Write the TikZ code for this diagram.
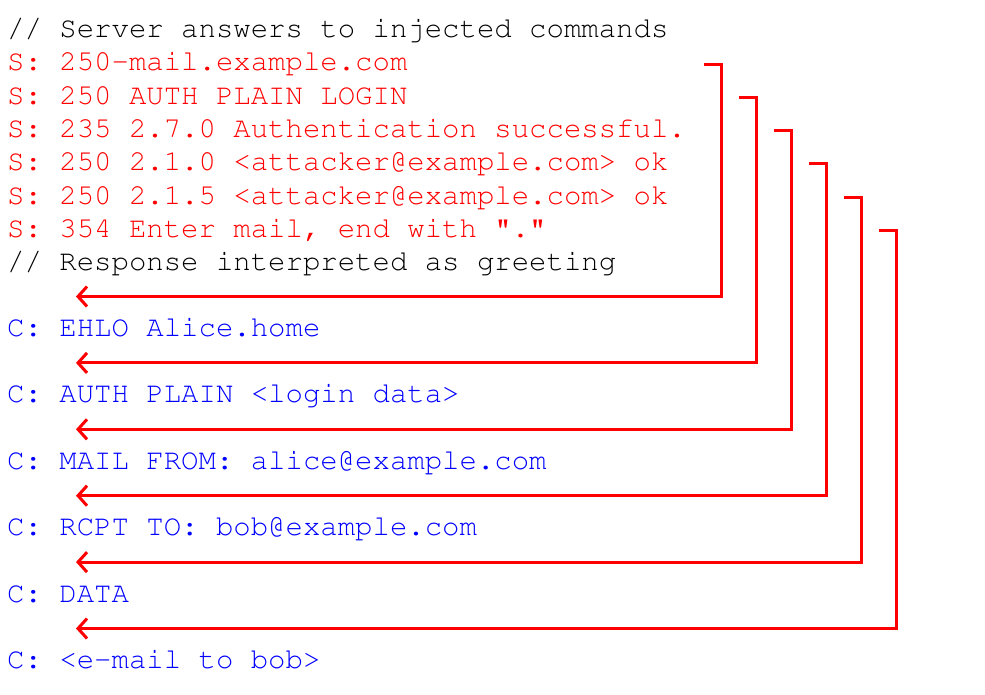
\documentclass[tikz,border=0pt]{standalone}
\usepackage[T1]{fontenc}
\usepackage{courier}
\usetikzlibrary{arrows.meta}
\definecolor{srv}{RGB}{255,0,0}
\definecolor{cli}{RGB}{0,0,255}
\begin{document}
\begin{tikzpicture}[x=1pt,y=-1pt,
  line/.style={inner sep=0pt,anchor=base west,font=\ttfamily\fontsize{29}{33}\selectfont},
  cmt/.style={line,text=black},
  sline/.style={line,text=srv},
  cline/.style={line,text=cli},
  conn/.style={draw=srv,line width=3pt,-{Straight Barb[length=9pt,width=20pt,line width=3pt]}}]
\useasboundingbox[fill=white] (0,0) rectangle (985,694);
\node[cmt]   (h1) at (7,37.5)  {// Server answers to injected commands};
\node[sline] (r1) at (7,70.8)  {S: 250-mail.example.com};
\node[sline] (r2) at (7,104.1) {S: 250 AUTH PLAIN LOGIN};
\node[sline] (r3) at (7,137.4) {S: 235 2.7.0 Authentication successful.};
\node[sline] (r4) at (7,170.7) {S: 250 2.1.0 <attacker@example.com> ok};
\node[sline] (r5) at (7,204)   {S: 250 2.1.5 <attacker@example.com> ok};
\node[sline] (r6) at (7,237.3) {S: 354 Enter mail, end with "."};
\node[cmt]   (h2) at (7,270.6) {// Response interpreted as greeting};
\node[cline] (c1) at (7,336)   {C: EHLO Alice.home};
\node[cline] (c2) at (7,402.5) {C: AUTH PLAIN <login data>};
\node[cline] (c3) at (7,469)   {C: MAIL FROM: alice@example.com};
\node[cline] (c4) at (7,535.5) {C: RCPT TO: bob@example.com};
\node[cline] (c5) at (7,602)   {C: DATA};
\node[cline] (c6) at (7,668.5) {C: <e-mail to bob>};
\foreach \i in {1,...,6}{
  \coordinate (s\i) at ({704+35*(\i-1)},{64+33.3*(\i-1)});
  \coordinate (t\i) at (76,{296.5+66.4*(\i-1)});
  \draw[conn] (s\i) -- ++(17.5,0) |- (t\i);
}
\end{tikzpicture}
\end{document}
